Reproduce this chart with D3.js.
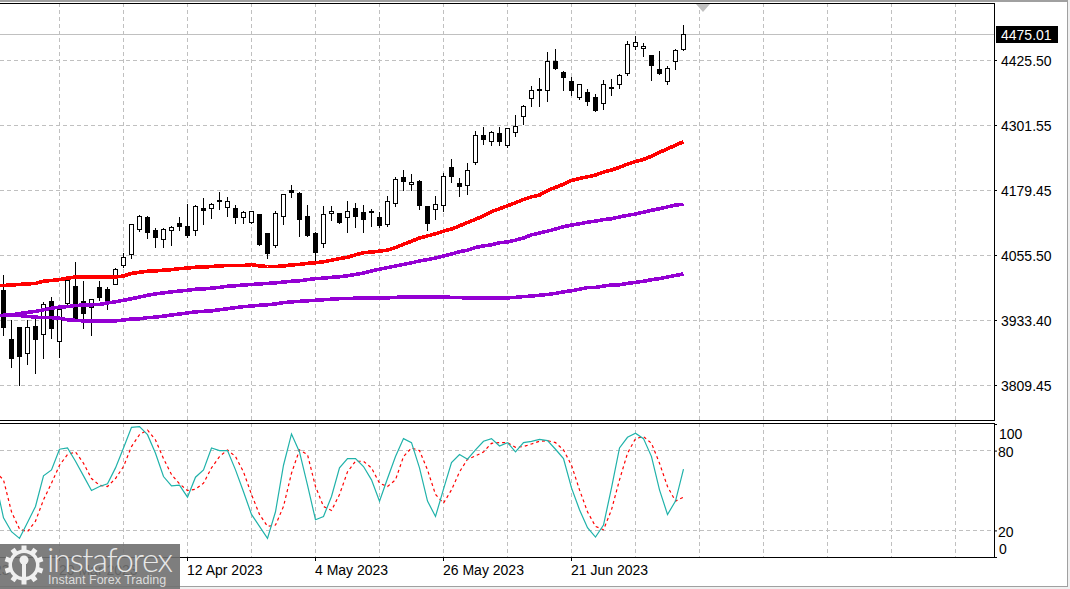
<!DOCTYPE html>
<html>
<head>
<meta charset="utf-8">
<script src="https://cdn.jsdelivr.net/npm/d3@7"></script>
<style>
    body { margin: 0; background: #fff; }
    svg { display: block; }
    text { font-family: "Liberation Sans", Arial, sans-serif; }
    .axis text { font-size: 14px; fill: #000; }
    .axis line { stroke: #000; }
    .axis path { display: none; }
</style>
</head>
<body>
<script>
    // daily candles, oldest first
    const opens = [
        3989,3896,3920,3870,3922,3906,3968,3892,3964,3998,
        3968,3958,3996,3992,4001,4037,4057,4105,4128,4104,
        4086,4104,4117,4111,4104,4145,4145,4160,4147,4145,
        4127,4118,4133,4097,4074,4130,4180,4174,4129,4098,
        4079,4136,4136,4127,4145,4138,4140,4128,4115,4155,
        4204,4191,4196,4148,4143,4150,4222,4193,4188,4232,
        4284,4272,4287,4264,4289,4319,4353,4371,4368,4424,
        4402,4386,4355,4365,4356,4344,4375,4380,4400,4452,
        4448,4435,4409,4386,4424,4446];
    const closes = [
        3919,3860,3864,3920,3896,3963,3917,3953,4009,3937,
        3945,3973,3977,3971,4030,4053,4115,4130,4099,4090,
        4106,4109,4110,4093,4149,4141,4153,4158,4159,4127,
        4138,4140,4076,4059,4136,4172,4175,4124,4093,4061,
        4134,4140,4119,4140,4129,4124,4137,4112,4159,4200,
        4196,4195,4150,4116,4153,4206,4205,4186,4217,4284,
        4275,4289,4272,4297,4301,4339,4369,4368,4424,4410,
        4393,4368,4380,4347,4330,4380,4372,4397,4456,4460,
        4452,4416,4400,4411,4445,4475.01];
    const highs = [
        4019,3935,3922,3935,3941,3968,3979,3960,4013,4044,
        4009,3974,4008,3998,4034,4061,4116,4133,4131,4109,
        4109,4112,4129,4155,4153,4166,4157,4178,4168,4153,
        4142,4142,4134,4099,4142,4173,4191,4178,4153,4102,
        4150,4150,4137,4160,4157,4153,4145,4140,4169,4205,
        4218,4212,4199,4150,4169,4214,4239,4204,4233,4292,
        4301,4292,4301,4299,4323,4343,4379,4394,4442,4449,
        4407,4396,4382,4373,4363,4389,4392,4400,4464,4473,
        4460,4437,4445,4416,4449,4494];
    const lows = [
        3905,3843,3809,3850,3832,3860,3898,3863,3962,3934,
        3917,3905,3971,3953,4000,4033,4050,4101,4088,4071,
        4071,4074,4104,4090,4093,4114,4126,4143,4129,4116,
        4116,4117,4074,4050,4071,4114,4165,4091,4091,4045,
        4071,4123,4117,4099,4109,4099,4110,4109,4110,4148,
        4179,4180,4143,4104,4125,4139,4194,4167,4171,4229,
        4267,4264,4265,4260,4281,4305,4338,4338,4347,4409,
        4368,4360,4351,4340,4329,4332,4360,4372,4398,4447,
        4433,4387,4399,4380,4408,4444];

    // moving averages and stochastic, these start one bar before the first candle
    const maRed = [3998,
        3999,4000,4001,4002,4003,4007,4008.5,4010,4013,4015,
        4015,4015,4015,4015,4015,4017,4022,4024,4026,4026.5,
        4028,4029,4031,4032,4033.5,4034,4035,4036,4037,4037,
        4037,4038.5,4036,4035,4035,4036,4038,4039,4041,4042,
        4044,4047,4050,4052.5,4057,4061,4062.5,4064,4066,4071,
        4077,4083,4089,4093,4097,4102,4106,4112,4118.5,4124.5,
        4131,4139,4144.5,4150,4156,4162,4167,4170.5,4179,4185,
        4191,4198,4202,4205,4208.5,4214,4218,4223,4229,4234,
        4238,4244,4251.5,4258,4265,4271.5];
    const maMid = [3941,
        3942.5,3943,3946,3948,3950,3953,3956,3958,3959,3961,
        3962,3962.5,3963,3966,3968,3971,3974,3977,3980.5,3983,
        3985,3987,3988.5,3990,3992,3992.5,3994,3995.5,3997.5,3998.5,
        4000,4001,4002,4003,4004,4005.5,4007,4008,4010,4012,
        4013,4014.5,4015.5,4017.5,4020,4022.5,4026.5,4030,4033,4036,
        4039,4042,4045.5,4048,4051,4055,4058.5,4063,4066,4071,
        4074,4076,4080,4081.5,4085,4089,4095,4098.5,4102,4106,
        4110.5,4113.5,4116,4119,4121,4124,4125.5,4129,4132,4134.5,
        4138,4141.5,4144.5,4148,4151.5,4153];
    const maSlow = [3942,
        3942.5,3943,3942,3940.5,3939,3938,3938,3937,3934,3933,
        3932,3931.5,3931.5,3931.5,3932,3933.5,3935.5,3936,3938,3939,
        3941,3943,3945,3947,3949,3950,3951,3953,3955,3957,
        3959,3960,3961.5,3962.5,3964,3966.5,3968,3969,3970,3971,
        3972,3973,3974,3974,3975,3975.5,3975.5,3975.5,3975.5,3976.5,
        3977,3977,3977,3977,3977,3977,3976.5,3976,3975.5,3975.5,
        3975.5,3975.5,3975.5,3975.5,3976.5,3978,3979,3980.5,3982,3984,
        3987,3989,3992,3995,3995.5,3998,4000,4000.5,4003,4005,
        4007,4010,4012,4015,4018,4021];
    const stochMain = [57,
        29.5,19,14,26,38,61,65.5,81,82,72,
        61,50,53,55,67,82,97.5,98,92,78,
        60.5,53.5,54,45,60,65.5,82,80,80,65.5,
        49,32,23,14,34,69,92.5,79,54,28,
        30.5,45.5,67,74,74,68,58,42,59,75.5,
        89,86,67,42,30.5,51,71,77,73.5,80.5,
        87,89,83.5,86,79,86,87,88.5,87.5,81,
        74,52,35.5,22,15,24,52,82,90,93,
        89,75.5,50.5,32,42,66];
    const stochSignal = [64,
        58,34,21,19,27,43,55.5,69,77,79,
        70.5,59,54,53,59,68,83,92,95.5,88,
        74,62,55,50,51,55.5,67,75.5,80.5,75.5,
        64,47,32,23,24,38,63,80.5,77,53,
        38,35,47,64,72,72,67,55.5,53,58,
        75.5,82,80,65.5,47,40.5,50.5,64,73.5,76,
        79,85.5,86,86,82.5,83,85,87,87.5,86,
        80.5,69,50.5,34,23,20.5,35.5,58,78,89,
        90.5,85.5,70.5,53,42,45];

    // axis labels
    const priceTicks = [4425.50, 4301.55, 4179.45, 4055.50, 3933.40, 3809.45];
    const lastPrice = 4475.01;
    const stochTicks = [100, 80, 20, 0];
    const stochGrid = [80, 20];
    const dateLabels = ['24 Feb 2023', '20 Mar 2023', '12 Apr 2023', '4 May 2023', '26 May 2023', '21 Jun 2023'];
    const dateBars = [-9, 7, 23, 39, 55, 71];
    const gridBars = [7, 15, 23, 31, 39, 47, 55, 63, 71, 79, 87, 95, 103, 111, 119];

    // canvas and panels
    const width = 1070, height = 589;
    const plotRight = 994;
    const mainTop = 3, mainBottom = 420;
    const subTop = 423, subBottom = 557;

    const svg = d3.select('body').append('svg')
        .attr('width', width)
        .attr('height', height);

    // scales, one bar is 8px wide
    const xScale = d3.scaleLinear().domain([0, 85]).range([3.5, 683.5]);
    const yScale = d3.scaleLinear().domain([3809.45, 4425.50]).range([385.5, 60.5]);
    const stochScale = d3.scaleLinear().domain([0, 100]).range([557, 424]);
    const px = v => Math.round(yScale(v) - 0.5) + 0.5;

    svg.append('defs').append('clipPath').attr('id', 'clip-main')
        .append('rect').attr('x', 0).attr('y', mainTop).attr('width', plotRight).attr('height', mainBottom - mainTop);
    svg.append('defs').append('clipPath').attr('id', 'clip-sub')
        .append('rect').attr('x', 0).attr('y', subTop).attr('width', plotRight).attr('height', subBottom - subTop);

    // window edges
    svg.append('rect').attr('x', 0).attr('y', 0).attr('width', width).attr('height', 2).attr('fill', '#a0a0a0');
    svg.append('rect').attr('x', 1067).attr('y', 0).attr('width', 3).attr('height', height).attr('fill', '#f0f0f0');
    svg.append('rect').attr('x', 0).attr('y', 586).attr('width', width).attr('height', 3).attr('fill', '#f0f0f0');
    svg.append('line').attr('x1', 1067.5).attr('x2', 1067.5).attr('y1', 0).attr('y2', 586).attr('stroke', '#a0a0a0');
    svg.append('line').attr('x1', 0).attr('x2', 1068).attr('y1', 586.5).attr('y2', 586.5).attr('stroke', '#a0a0a0');

    // grid
    const grid = svg.append('g')
        .attr('stroke', '#c0c0c0')
        .attr('stroke-dasharray', '4,3')
        .attr('shape-rendering', 'crispEdges');

    grid.selectAll('.grid-v-main').data(gridBars).enter().append('line')
        .attr('x1', d => xScale(d)).attr('x2', d => xScale(d))
        .attr('y1', mainTop).attr('y2', mainBottom);
    grid.selectAll('.grid-v-sub').data(gridBars).enter().append('line')
        .attr('class', 'grid-v-sub')
        .attr('x1', d => xScale(d)).attr('x2', d => xScale(d))
        .attr('y1', subTop).attr('y2', subBottom);
    grid.selectAll('.grid-h-main').data(priceTicks).enter().append('line')
        .attr('class', 'grid-h-main')
        .attr('x1', 0).attr('x2', plotRight)
        .attr('y1', d => px(d)).attr('y2', d => px(d));
    grid.selectAll('.grid-h-sub').data(stochGrid).enter().append('line')
        .attr('class', 'grid-h-sub')
        .attr('x1', 0).attr('x2', plotRight)
        .attr('y1', d => Math.floor(stochScale(d)) + 0.5).attr('y2', d => Math.floor(stochScale(d)) + 0.5);

    // last price line
    svg.append('line')
        .attr('x1', 0).attr('x2', plotRight)
        .attr('y1', px(lastPrice)).attr('y2', px(lastPrice))
        .attr('stroke', '#c0c0c0');

    // gray marker on the top edge
    svg.append('path')
        .attr('d', d3.line()([[xScale(87) - 7, 4], [xScale(87) + 7, 4], [xScale(87), 12]]))
        .attr('transform', 'translate(3.5, 0)')
        .attr('fill', '#c0c0c0');

    // candles
    const main = svg.append('g').attr('clip-path', 'url(#clip-main)');
    const candles = main.selectAll('.candle').data(opens.map((o, i) => i)).enter().append('g')
        .attr('class', 'candle')
        .attr('shape-rendering', 'crispEdges');

    candles.append('line')
        .attr('x1', i => xScale(i)).attr('x2', i => xScale(i))
        .attr('y1', i => px(highs[i])).attr('y2', i => px(lows[i]))
        .attr('stroke', '#000');
    candles.append('rect')
        .attr('x', i => xScale(i) - 2)
        .attr('width', 4)
        .attr('y', i => px(Math.max(opens[i], closes[i])))
        .attr('height', i => Math.max(px(Math.min(opens[i], closes[i])) - px(Math.max(opens[i], closes[i])), 1))
        .attr('fill', i => closes[i] >= opens[i] ? '#fff' : '#000')
        .attr('stroke', '#000');

    // moving averages, drawn without smoothing like the terminal does
    const barLine = scale => d3.line().x((d, i) => xScale(i - 1)).y(d => scale(d));

    [[maSlow, '#9400d3'], [maMid, '#9400d3'], [maRed, '#ff0000']].forEach(([values, color]) => {
        main.append('path')
            .attr('d', barLine(yScale)(values))
            .attr('fill', 'none')
            .attr('stroke', color)
            .attr('stroke-width', 3.6)
            .attr('shape-rendering', 'crispEdges');
    });

    // stochastic
    const sub = svg.append('g').attr('clip-path', 'url(#clip-sub)');
    sub.append('path')
        .attr('d', barLine(stochScale)(stochSignal))
        .attr('fill', 'none')
        .attr('stroke', '#ff0000')
        .attr('stroke-width', 1.2)
        .attr('stroke-dasharray', '3,3');
    sub.append('path')
        .attr('d', barLine(stochScale)(stochMain))
        .attr('fill', 'none')
        .attr('stroke', '#20b2aa')
        .attr('stroke-width', 1.2);

    // panel frames
    const frames = svg.append('g').attr('stroke', '#000').attr('shape-rendering', 'crispEdges');
    [mainTop, mainBottom, subTop, subBottom].forEach(y => {
        frames.append('line').attr('x1', 0).attr('x2', plotRight + 0.5).attr('y1', y + 0.5).attr('y2', y + 0.5);
    });
    frames.append('line').attr('x1', plotRight + 0.5).attr('x2', plotRight + 0.5).attr('y1', mainTop).attr('y2', mainBottom);
    frames.append('line').attr('x1', plotRight + 0.5).attr('x2', plotRight + 0.5).attr('y1', subTop).attr('y2', subBottom);

    // price axis
    const yAxis = d3.axisRight(yScale.copy().rangeRound([385, 60]))
        .tickValues(priceTicks)
        .tickFormat(d3.format('.2f'))
        .tickSize(3)
        .tickPadding(4);
    svg.append('g')
        .attr('class', 'axis y-axis')
        .attr('transform', `translate(${plotRight}, 0)`)
        .call(yAxis)
        .selectAll('text').attr('dy', '.4em');

    // last price tag
    svg.append('rect')
        .attr('x', 996).attr('y', px(lastPrice) - 8.5)
        .attr('width', 62).attr('height', 17)
        .attr('fill', '#000');
    svg.append('text')
        .attr('x', 1001).attr('y', px(lastPrice))
        .attr('dy', '.38em')
        .attr('font-size', '14px')
        .attr('fill', '#fff')
        .text(lastPrice.toFixed(2));

    // stochastic axis, top and bottom labels sit inside the panel
    const stochAxis = d3.axisRight(stochScale)
        .tickValues(stochTicks)
        .tickSize(3)
        .tickPadding(1);
    svg.append('g')
        .attr('class', 'axis stoch-axis')
        .attr('transform', `translate(${plotRight}, 0)`)
        .call(stochAxis)
        .selectAll('text')
        .attr('x', d => d === 100 || d === 0 ? 5 : 4)
        .attr('y', d => d === 100 ? 9 : d === 0 ? -9 : 0)
        .attr('dy', '.4em');

    // time axis
    const xAxis = d3.axisBottom(d3.scalePoint().domain(dateLabels).range([xScale(dateBars[0]), xScale(dateBars[5])]))
        .tickSize(4)
        .tickPadding(4);
    const xAxisGroup = svg.append('g')
        .attr('class', 'axis x-axis')
        .attr('transform', `translate(-0.5, ${subBottom})`)
        .call(xAxis);
    xAxisGroup.selectAll('text').attr('text-anchor', 'start').attr('x', -0.5).attr('dy', '0.72em');

    // logo over the bottom left corner
    const logo = svg.append('g');
    logo.append('rect')
        .attr('x', 0).attr('y', 544)
        .attr('width', 180).attr('height', 45)
        .attr('fill', 'rgba(112,112,112,0.9)');

    const gear = logo.append('g')
        .attr('transform', 'translate(24, 565)')
        .attr('fill', '#f0f0f0');
    gear.append('path')
        .attr('d', d3.arc().innerRadius(12).outerRadius(15.5).startAngle(0).endAngle(2 * Math.PI)());
    gear.selectAll('.tooth').data(d3.range(10)).enter().append('rect')
        .attr('x', -2.5).attr('y', -19.5)
        .attr('width', 5).attr('height', 6)
        .attr('transform', d => `rotate(${d * 36})`);
    gear.append('circle').attr('cy', -5).attr('r', 4.5);
    gear.append('rect').attr('x', -2).attr('y', -2).attr('width', 4).attr('height', 15);

    logo.append('text')
        .attr('x', 47).attr('y', 572)
        .attr('font-size', '33px')
        .attr('textLength', 126)
        .attr('lengthAdjust', 'spacing')
        .attr('fill', '#e8e8e8')
        .style('font-family', '"Lato", "Noto Sans", sans-serif')
        .style('font-weight', 300)
        .text('instaforex');
    logo.append('text')
        .attr('x', 48).attr('y', 584)
        .attr('font-size', '12.5px')
        .attr('fill', '#dcdcdc')
        .text('Instant Forex Trading');
</script>
</body>
</html>
